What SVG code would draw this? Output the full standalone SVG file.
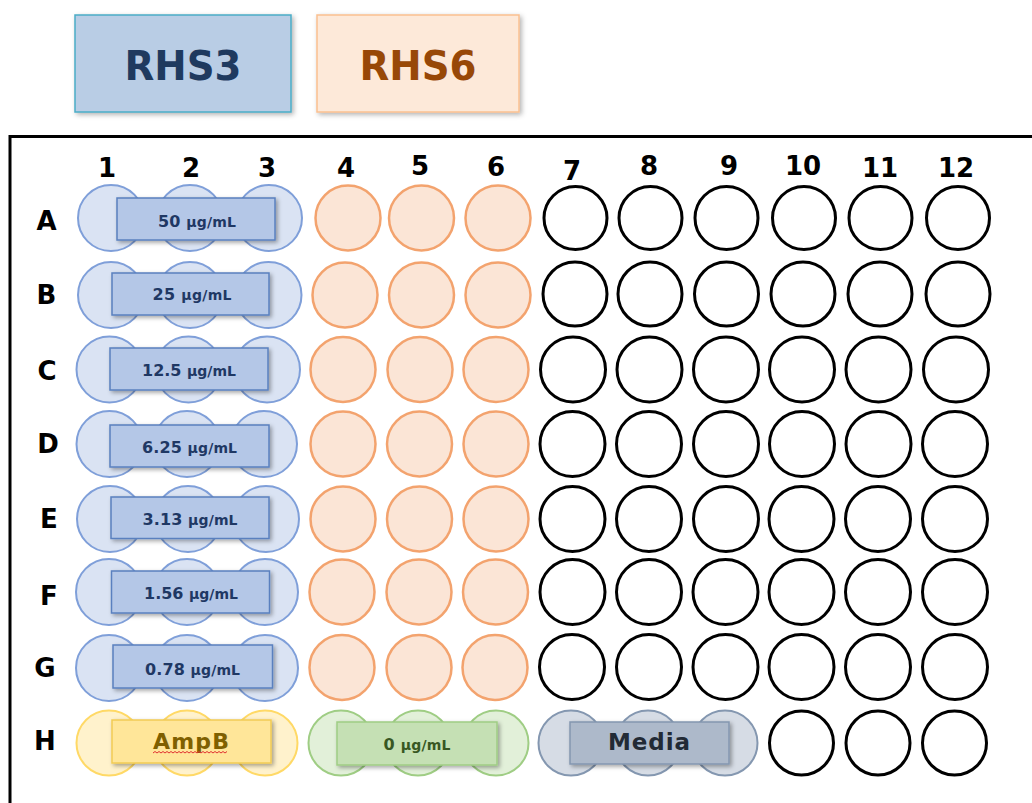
<svg xmlns="http://www.w3.org/2000/svg" width="1032" height="803" viewBox="0 0 1032 803">
<defs>
<filter id="sh" x="-10%" y="-20%" width="125%" height="150%">
<feDropShadow dx="2" dy="2" stdDeviation="2" flood-color="#000" flood-opacity="0.35"/>
</filter>
<filter id="shl" x="-10%" y="-10%" width="125%" height="130%">
<feDropShadow dx="2" dy="2" stdDeviation="2.5" flood-color="#000" flood-opacity="0.3"/>
</filter>
</defs>
<style>
text{font-family:"DejaVu Sans","Liberation Sans",sans-serif;font-weight:bold}
.lbl{font-size:26px;fill:#000;text-anchor:middle}
.bw{fill:#dae3f3;stroke:#7f9fd9;stroke-width:2}
.ow{fill:#fbe5d6;stroke:#f3a36e;stroke-width:2.5}
.kw{fill:#fff;stroke:#000;stroke-width:3}
.yw{fill:#fff2cc;stroke:#ffd966;stroke-width:2}
.gw{fill:#e2f0d9;stroke:#9fcd84;stroke-width:2}
.mw{fill:#d6dce5;stroke:#8497b0;stroke-width:2}
.br{fill:#b4c7e7;stroke:#5a80bf;stroke-width:1.5;filter:url(#sh)}
.yr{fill:#ffe699;stroke:#f2cb55;stroke-width:1.5;filter:url(#sh)}
.gr{fill:#c5e0b4;stroke:#9fcd84;stroke-width:1.5;filter:url(#sh)}
.mr{fill:#adb9ca;stroke:#8497b0;stroke-width:1.5;filter:url(#sh)}
.bt{fill:#1f3864;text-anchor:middle;font-size:16px}
.u{font-size:14px}
</style>

<g id="legend-rhs3">
<rect x="75" y="15" width="216" height="97" fill="#b9cde5" stroke="#4bacc6" stroke-width="1.5" filter="url(#shl)"/>
<text x="183" y="80" font-size="41" fill="#1f3a5f" text-anchor="middle" textLength="117" lengthAdjust="spacingAndGlyphs">RHS3</text>
</g>
<g id="legend-rhs6">
<rect x="317" y="15" width="202" height="97" fill="#fde9d9" stroke="#fac090" stroke-width="1.5" filter="url(#shl)"/>
<text x="418" y="80" font-size="41" fill="#984807" text-anchor="middle" textLength="117" lengthAdjust="spacingAndGlyphs">RHS6</text>
</g>

<g id="plate">
<path d="M10,803 V136.5 H1032" fill="none" stroke="#000" stroke-width="3"/>
</g>

<g id="column-labels">
<text class="lbl" x="107" y="177">1</text>
<text class="lbl" x="191" y="177">2</text>
<text class="lbl" x="267" y="177">3</text>
<text class="lbl" x="346" y="177">4</text>
<text class="lbl" x="420" y="175">5</text>
<text class="lbl" x="496" y="176">6</text>
<text class="lbl" x="572" y="180">7</text>
<text class="lbl" x="649" y="175">8</text>
<text class="lbl" x="729" y="175">9</text>
<text class="lbl" x="803" y="175">10</text>
<text class="lbl" x="880" y="177">11</text>
<text class="lbl" x="956" y="177">12</text>
</g>

<g id="row-labels">
<text class="lbl" x="46.5" y="230">A</text>
<text class="lbl" x="46.5" y="304">B</text>
<text class="lbl" x="47" y="380">C</text>
<text class="lbl" x="48" y="453">D</text>
<text class="lbl" x="49" y="528">E</text>
<text class="lbl" x="49" y="605">F</text>
<text class="lbl" x="45" y="677">G</text>
<text class="lbl" x="45" y="750">H</text>
</g>

<g id="row-A">
<circle class="bw" cx="111" cy="218" r="33"/><circle class="bw" cx="190" cy="218" r="33"/><circle class="bw" cx="269" cy="218" r="33"/>
<circle class="ow" cx="348" cy="218" r="32.5"/><circle class="ow" cx="421.5" cy="218" r="32.5"/><circle class="ow" cx="498" cy="218" r="32.5"/>
<circle class="kw" cx="575.5" cy="218" r="31.5"/><circle class="kw" cx="650.5" cy="218" r="31.5"/><circle class="kw" cx="726.5" cy="218" r="31.5"/><circle class="kw" cx="804" cy="218" r="31.5"/><circle class="kw" cx="880.5" cy="218" r="31.5"/><circle class="kw" cx="958" cy="218" r="31.5"/>
</g>
<g id="label-A">
<rect class="br" x="117" y="198" width="158" height="42"/>
<text class="bt" x="197" y="227" textLength="78">50 <tspan class="u">µg/mL</tspan></text>
</g>

<g id="row-B">
<circle class="bw" cx="111" cy="295" r="33"/><circle class="bw" cx="190" cy="295" r="33"/><circle class="bw" cx="268.5" cy="295" r="33"/>
<circle class="ow" cx="345" cy="295" r="32.5"/><circle class="ow" cx="421.5" cy="295" r="32.5"/><circle class="ow" cx="498" cy="295" r="32.5"/>
<circle class="kw" cx="575" cy="294" r="32"/><circle class="kw" cx="650" cy="294" r="32"/><circle class="kw" cx="726.5" cy="294" r="32"/><circle class="kw" cx="803" cy="294" r="32"/><circle class="kw" cx="880" cy="294" r="32"/><circle class="kw" cx="958" cy="294" r="32"/>
</g>
<g id="label-B">
<rect class="br" x="112" y="273" width="157" height="42"/>
<text class="bt" x="192" y="300" textLength="79">25 <tspan class="u">µg/mL</tspan></text>
</g>

<g id="row-C">
<circle class="bw" cx="109.5" cy="369.5" r="33"/><circle class="bw" cx="188.5" cy="369.5" r="33"/><circle class="bw" cx="267" cy="369.5" r="33"/>
<circle class="ow" cx="343" cy="369.5" r="32.5"/><circle class="ow" cx="420" cy="369.5" r="32.5"/><circle class="ow" cx="496" cy="369.5" r="32.5"/>
<circle class="kw" cx="573" cy="369.5" r="32.5"/><circle class="kw" cx="649.5" cy="369.5" r="32.5"/><circle class="kw" cx="726" cy="369.5" r="32.5"/><circle class="kw" cx="802" cy="369.5" r="32.5"/><circle class="kw" cx="878.5" cy="369.5" r="32.5"/><circle class="kw" cx="956" cy="369.5" r="32.5"/>
</g>
<g id="label-C">
<rect class="br" x="110" y="348" width="158" height="42"/>
<text class="bt" x="189" y="376" textLength="94">12.5 <tspan class="u">µg/mL</tspan></text>
</g>

<g id="row-D">
<circle class="bw" cx="109.5" cy="444" r="33"/><circle class="bw" cx="187" cy="444" r="33"/><circle class="bw" cx="264" cy="444" r="33"/>
<circle class="ow" cx="343" cy="444" r="32.5"/><circle class="ow" cx="419.5" cy="444" r="32.5"/><circle class="ow" cx="496" cy="444" r="32.5"/>
<circle class="kw" cx="572.5" cy="444" r="32.5"/><circle class="kw" cx="649" cy="444" r="32.5"/><circle class="kw" cx="726" cy="444" r="32.5"/><circle class="kw" cx="802" cy="444" r="32.5"/><circle class="kw" cx="878.5" cy="444" r="32.5"/><circle class="kw" cx="955" cy="444" r="32.5"/>
</g>
<g id="label-D">
<rect class="br" x="110" y="425" width="159" height="42"/>
<text class="bt" x="189.5" y="453" textLength="95">6.25 <tspan class="u">µg/mL</tspan></text>
</g>

<g id="row-E">
<circle class="bw" cx="110" cy="519" r="33"/><circle class="bw" cx="188" cy="519" r="33"/><circle class="bw" cx="266" cy="519" r="33"/>
<circle class="ow" cx="343" cy="519" r="32.5"/><circle class="ow" cx="419.5" cy="519" r="32.5"/><circle class="ow" cx="496" cy="519" r="32.5"/>
<circle class="kw" cx="572.5" cy="519" r="32.5"/><circle class="kw" cx="649" cy="519" r="32.5"/><circle class="kw" cx="726" cy="519" r="32.5"/><circle class="kw" cx="801.5" cy="519" r="32.5"/><circle class="kw" cx="878" cy="519" r="32.5"/><circle class="kw" cx="955" cy="519" r="32.5"/>
</g>
<g id="label-E">
<rect class="br" x="111" y="497" width="158" height="41.5"/>
<text class="bt" x="190" y="524.5" textLength="95">3.13 <tspan class="u">µg/mL</tspan></text>
</g>

<g id="row-F">
<circle class="bw" cx="109" cy="592" r="33"/><circle class="bw" cx="187" cy="592" r="33"/><circle class="bw" cx="265" cy="592" r="33"/>
<circle class="ow" cx="342" cy="592" r="32.5"/><circle class="ow" cx="419" cy="592" r="32.5"/><circle class="ow" cx="495.5" cy="592" r="32.5"/>
<circle class="kw" cx="572.5" cy="592" r="32.5"/><circle class="kw" cx="649" cy="592" r="32.5"/><circle class="kw" cx="725.5" cy="592" r="32.5"/><circle class="kw" cx="801.5" cy="592" r="32.5"/><circle class="kw" cx="878" cy="592" r="32.5"/><circle class="kw" cx="955" cy="592" r="32.5"/>
</g>
<g id="label-F">
<rect class="br" x="111.5" y="571" width="158" height="42"/>
<text class="bt" x="191" y="599" textLength="94">1.56 <tspan class="u">µg/mL</tspan></text>
</g>

<g id="row-G">
<circle class="bw" cx="109" cy="668" r="33"/><circle class="bw" cx="187" cy="668" r="33"/><circle class="bw" cx="265" cy="668" r="33"/>
<circle class="ow" cx="342" cy="667.5" r="32.5"/><circle class="ow" cx="419" cy="667.5" r="32.5"/><circle class="ow" cx="495" cy="667.5" r="32.5"/>
<circle class="kw" cx="572" cy="667" r="32.5"/><circle class="kw" cx="649" cy="667" r="32.5"/><circle class="kw" cx="725.5" cy="667" r="32.5"/><circle class="kw" cx="801.5" cy="667" r="32.5"/><circle class="kw" cx="878" cy="667" r="32.5"/><circle class="kw" cx="955" cy="667" r="32.5"/>
</g>
<g id="label-G">
<rect class="br" x="113" y="645" width="159.5" height="43"/>
<text class="bt" x="192.5" y="674.5" textLength="95">0.78 <tspan class="u">µg/mL</tspan></text>
</g>

<g id="row-H">
<circle class="yw" cx="109" cy="743" r="32.5"/><circle class="yw" cx="187" cy="743" r="32.5"/><circle class="yw" cx="265" cy="743" r="32.5"/>
<circle class="gw" cx="341" cy="743" r="32.5"/><circle class="gw" cx="418" cy="743" r="32.5"/><circle class="gw" cx="496" cy="743" r="32.5"/>
<circle class="mw" cx="571" cy="743" r="32.5"/><circle class="mw" cx="648" cy="743" r="32.5"/><circle class="mw" cx="725" cy="743" r="32.5"/>
<circle class="kw" cx="801.5" cy="743" r="32"/><circle class="kw" cx="878" cy="743" r="32"/><circle class="kw" cx="954.5" cy="743" r="32"/>
</g>
<g id="label-ampb">
<rect class="yr" x="112" y="720" width="159" height="43"/>
<text x="191" y="748.5" font-size="22" fill="#7f6000" text-anchor="middle" textLength="76">AmpB</text>
<path d="M153,753 l2,-1.5 l2,1.5 l2,-1.5 l2,1.5 l2,-1.5 l2,1.5 l2,-1.5 l2,1.5 l2,-1.5 l2,1.5 l2,-1.5 l2,1.5 l2,-1.5 l2,1.5 l2,-1.5 l2,1.5 l2,-1.5 l2,1.5 l2,-1.5 l2,1.5 l2,-1.5 l2,1.5 l2,-1.5 l2,1.5 l2,-1.5 l2,1.5 l2,-1.5 l2,1.5 l2,-1.5 l2,1.5 l2,-1.5 l2,1.5 l2,-1.5 l2,1.5 l2,-1.5 l2,1.5 l2,-1.5" fill="none" stroke="#e03030" stroke-width="1"/>
</g>
<g id="label-zero">
<rect class="gr" x="337" y="722" width="160" height="43"/>
<text x="417" y="750" font-size="16" fill="#385723" text-anchor="middle" textLength="67">0 <tspan class="u">µg/mL</tspan></text>
</g>
<g id="label-media">
<rect class="mr" x="570" y="722" width="159" height="42"/>
<text x="649" y="750" font-size="23" fill="#222a35" text-anchor="middle" textLength="82">Media</text>
</g>

<g id="connectors"/>
</svg>
